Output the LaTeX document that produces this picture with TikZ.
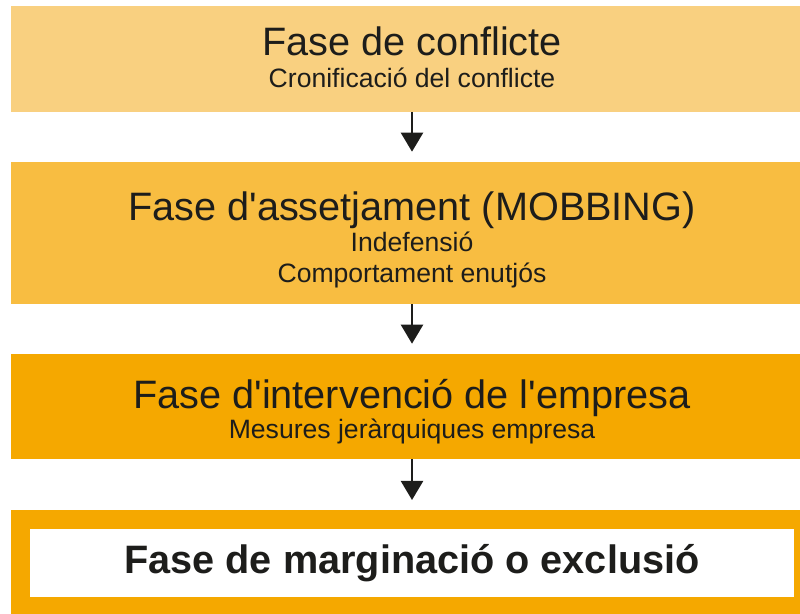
\documentclass[tikz,border=0pt]{standalone}
\usepackage{fontspec}
\setmainfont{Liberation Sans}[Ligatures=TeXOff]
\usetikzlibrary{arrows.meta,positioning}
\definecolor{faseA}{RGB}{249,208,128}
\definecolor{faseB}{RGB}{248,189,65}
\definecolor{faseC}{RGB}{245,168,0}
\definecolor{tinta}{RGB}{29,29,27}

\begin{document}
\begin{tikzpicture}[x=0.025cm,y=-0.025cm,font=\fontsize{18.9}{22}\selectfont,text=tinta,fase/.style={rectangle, minimum width=20.05cm, inner sep=0pt},titol/.style={anchor=base, inner sep=0pt, font=\fontsize{28.2}{34}\selectfont},subtitol/.style={anchor=base, inner sep=0pt, align=center},flow/.style={draw=tinta, line width=1.6pt, -{Triangle[length=0.475cm,width=0.55cm]}, shorten >=0.25cm}]
\path[use as bounding box, clip] (0,0) rectangle (800,613);
\node[fase, fill=faseA, minimum height=2.65cm] (conflicte) at (412,59) {};\node[fase, fill=faseB, minimum height=3.55cm] (assetjament) at (412,233) {};\node[fase, fill=faseC, minimum height=2.625cm] (intervencio) at (412,406.5) {};
\node[draw=faseC, line width=0.475cm, fill=white, minimum width=19.575cm, minimum height=2.175cm, inner sep=0pt] (marginacio) at (412,563) {};
\node[titol] (t1) at (412,55) {Fase de conflicte};\node[subtitol] (s1) at (412,87) {Cronificació del conflicte};
\node[titol] (t2) at (412,220) {Fase d'assetjament (MOBBING)};\node[subtitol] (s2) at (412,282) {Indefensió\\Comportament enutjós};
\node[titol] (t3) at (412,408) {Fase d'intervenció de l'empresa};\node[subtitol] (s3) at (412,438) {Mesures jeràrquiques empresa};
\node[titol, font=\fontsize{28.2}{34}\selectfont\bfseries] (t4) at (412,573) {Fase de marginació o exclusió};
\draw[flow] (conflicte) -- (assetjament);\draw[flow] (assetjament) -- (intervencio);\draw[flow] (intervencio) -- (marginacio);
\end{tikzpicture}
\end{document}
